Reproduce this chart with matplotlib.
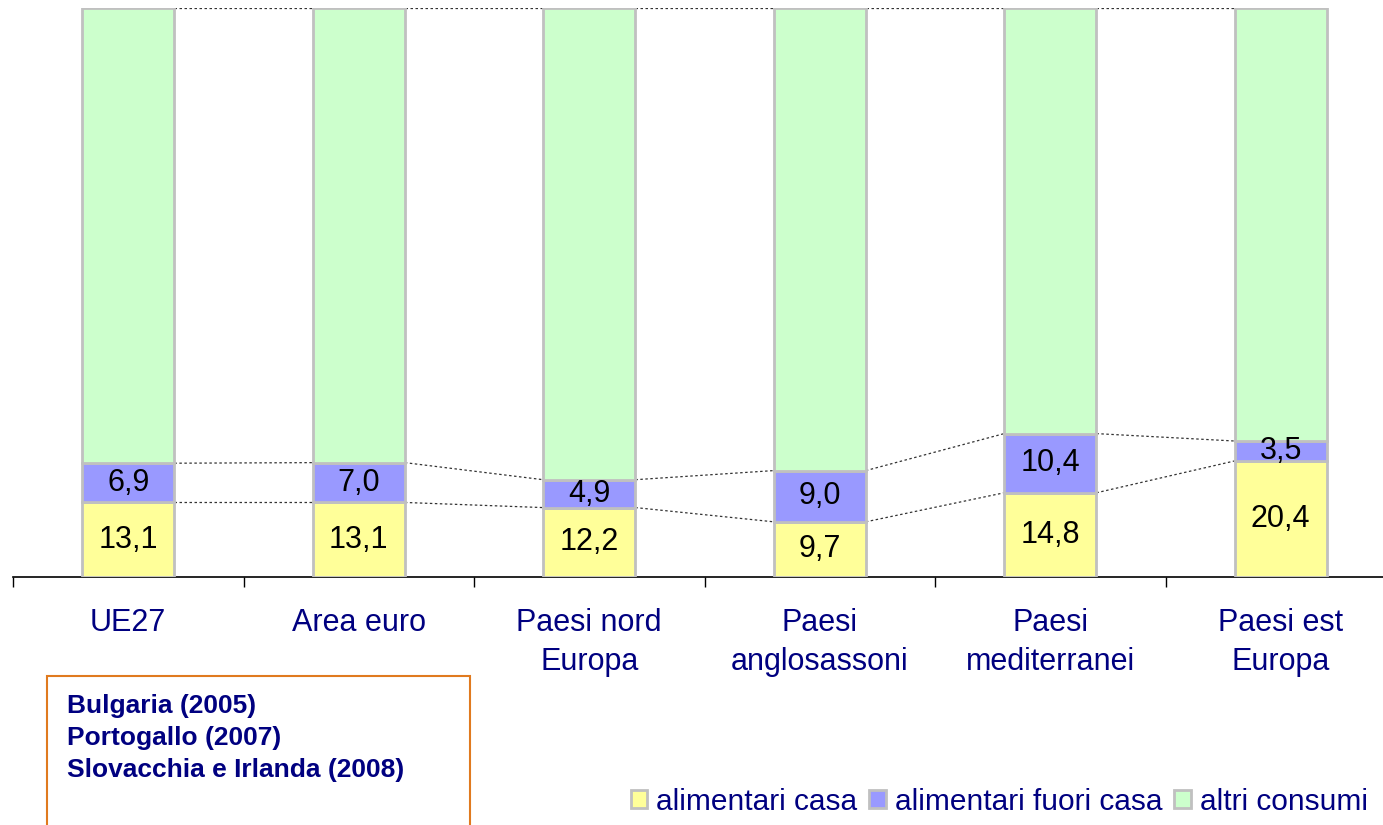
import matplotlib.pyplot as plt
import numpy as np
from matplotlib.patches import Rectangle

# data (quote % sulla spesa totale)
categorie = ['UE27', 'Area euro', 'Paesi nord\nEuropa', 'Paesi\nanglosassoni',
             'Paesi\nmediterranei', 'Paesi est\nEuropa']
casa = np.array([13.1, 13.1, 12.2, 9.7, 14.8, 20.4])
fuori_casa = np.array([6.9, 7.0, 4.9, 9.0, 10.4, 3.5])
altri = 100 - casa - fuori_casa
note = ['Bulgaria (2005)', 'Portogallo (2007)', 'Slovacchia e Irlanda (2008)']

plt.rcParams['font.family'] = ['Liberation Sans', 'DejaVu Sans']
navy = '#000080'

W, H = 1383, 825
fig = plt.figure(figsize=(W / 100, H / 100), dpi=100)
ax = fig.add_axes([13 / W, (H - 577) / H, (1396 - 13) / W, 569 / H])

x = np.arange(len(categorie))
bw = 0.4
edge = '#C0C0C0'
cols = ['#FFFF99', '#9999FF', '#CCFFCC']
names = ['alimentari casa', 'alimentari fuori casa', 'altri consumi']

bottom = np.zeros(len(x))
for vals, c, n in zip([casa, fuori_casa, altri], cols, names):
    ax.bar(x, vals, bw, bottom=bottom, color=c, edgecolor=edge, lw=2, label=n, zorder=3)
    bottom = bottom + vals

# series lines between bars
for top in [casa, casa + fuori_casa, casa + fuori_casa + altri]:
    for i in range(len(x) - 1):
        ax.plot([x[i] + bw / 2, x[i + 1] - bw / 2], [top[i], top[i + 1]],
                ls=(0, (2, 2)), lw=0.9, c='#333333', zorder=2)

# data labels
for i in range(len(x)):
    ax.text(x[i], casa[i] / 2, f'{casa[i]:.1f}'.replace('.', ','), ha='center',
            va='center', fontsize=22, zorder=4)
    ax.text(x[i], casa[i] + fuori_casa[i] / 2, f'{fuori_casa[i]:.1f}'.replace('.', ','),
            ha='center', va='center', fontsize=22, zorder=4)

ax.set_xlim(-0.5, len(x) - 0.5)
ax.set_ylim(0, 100)
ax.set_yticks([])
for s in ['left', 'right', 'top']:
    ax.spines[s].set_visible(False)
ax.spines['bottom'].set_linewidth(1.2)

ax.set_xticks(np.arange(-0.5, len(x), 1))
ax.set_xticklabels([])
ax.tick_params(axis='x', which='major', direction='out', length=7, width=1)
ax.set_xticks(x, minor=True)
ax.set_xticklabels(categorie, minor=True, fontsize=22, linespacing=1.42, color=navy)
ax.tick_params(axis='x', which='minor', length=0, pad=22)

# legend
leg = fig.legend(loc='lower right', bbox_to_anchor=(1.004, -0.014), ncol=3, frameon=False,
                 fontsize=21.5, handlelength=0.55, handleheight=0.55, handletextpad=0.3,
                 columnspacing=0.4, borderaxespad=0.3)
for t in leg.get_texts():
    t.set_color(navy)

# box with notes
fig.patches.append(Rectangle((47 / W, -0.01), (470 - 47) / W, (825 - 676) / H + 0.01,
                             transform=fig.transFigure, fill=False,
                             edgecolor='#E07A1F', lw=1.5))
fig.text(67 / W, 1 - 738 / H, '\n'.join(note), fontsize=19, fontweight='bold',
         color=navy, va='center', ha='left', linespacing=1.42)

plt.savefig('out.png', dpi=100)
